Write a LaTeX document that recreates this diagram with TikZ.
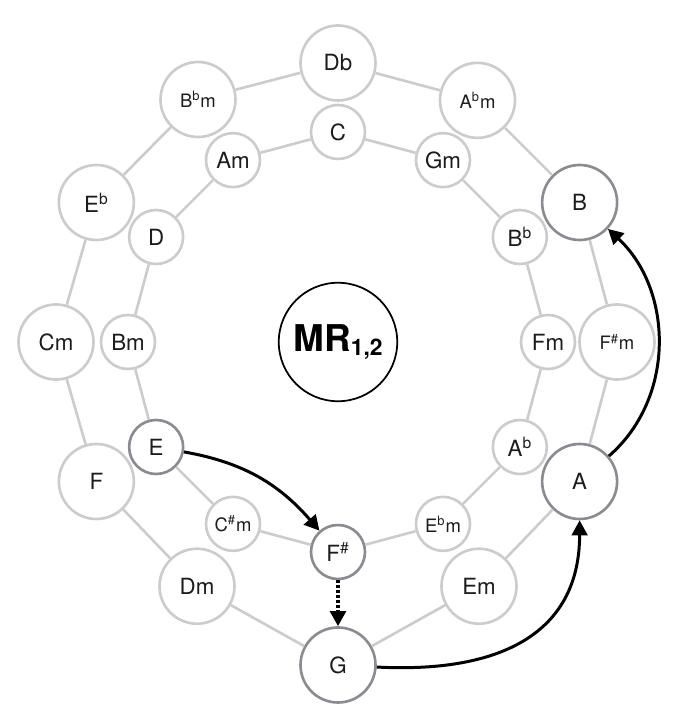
\documentclass[tikz,border=0pt]{standalone}
\usepackage{fontspec}
\setmainfont{TeX Gyre Heros}
\usepackage{xcolor}
\usepackage{tikz}
\usetikzlibrary{arrows.meta}
\definecolor{ringgray}{RGB}{204,204,204}
\definecolor{hotgray}{RGB}{138,140,146}
\definecolor{labelink}{RGB}{28,28,28}
\newcommand{\fl}{\textsuperscript{b}}
\newcommand{\sh}{\textsuperscript{\#}}
\newcommand{\sm}{\fontsize{10.5}{12}\selectfont}

\begin{document}
\begin{tikzpicture}[
  chord/.style={circle, draw=ringgray, line width=1.5pt, fill=white, text=labelink,
                inner sep=0pt, font=\fontsize{12.7}{14}\selectfont},
  outerchord/.style={chord, minimum size=1.5cm},
  innerchord/.style={chord, minimum size=1.08cm},
  link/.style={draw=ringgray, line width=1.5pt},
  move/.style={line width=1.7pt, -{Triangle[length=8.5pt,width=8.8pt]}}]
\useasboundingbox (-6.76,-7.40) rectangle (6.84,6.84);
\node[circle, draw, line width=1pt, minimum size=2.37cm, inner sep=0pt] (mr) at (0,0)
  {\fontsize{21}{24}\selectfont\bfseries MR\raisebox{-0.12em}{\fontsize{13}{13}\selectfont 1,2}};
\foreach \i/\lab/\r/\col in {0/Db/5.58/ringgray, 1/{\sm A\fl m}/5.58/ringgray, 2/B/5.58/hotgray,
    3/{\sm F\sh m}/5.58/ringgray, 4/A/5.58/hotgray, 5/Em/5.64/ringgray, 6/G/6.46/hotgray,
    7/Dm/5.64/ringgray, 8/F/5.58/ringgray, 9/Cm/5.64/ringgray, 10/{E\fl}/5.58/ringgray,
    11/{\sm B\fl m}/5.6/ringgray} {
  \node[outerchord, draw=\col] (o\i) at ({90-30*\i}:\r) {\lab};
}
\foreach \i/\lab/\col in {0/C/ringgray, 1/Gm/ringgray, 2/{B\fl}/ringgray, 3/Fm/ringgray,
    4/{A\fl}/ringgray, 5/{\sm E\fl m}/ringgray, 6/{F\sh}/hotgray, 7/{\sm C\sh m}/ringgray,
    8/E/hotgray, 9/Bm/ringgray, 10/D/ringgray, 11/Am/ringgray} {
  \node[innerchord, draw=\col] (i\i) at ({90-30*\i}:4.2) {\lab};
}
\foreach \i in {0,...,11} {
  \pgfmathtruncatemacro{\j}{mod(\i+1,12)}
  \draw[link] (o\i) -- (o\j);
  \draw[link] (i\i) -- (i\j);
}
\draw[move] (i8) to[out=-10, in=131] (i6);
\draw[move, line width=2.1pt, dash pattern=on 1.6pt off 1.2pt] (i6) -- (o6);
\draw[move] (o6) to[out=-3, in=-90, looseness=1.2] (o4);
\draw[move] (o4) to[out=41, in=-43] (o2);
\end{tikzpicture}
\end{document}
